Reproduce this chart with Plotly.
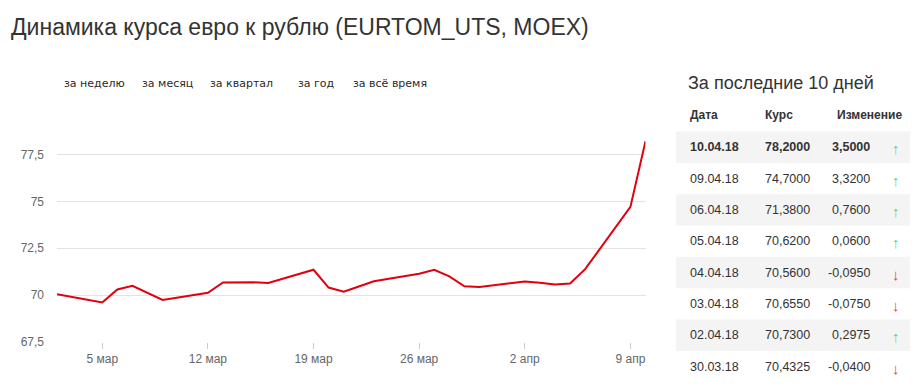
import plotly.graph_objects as go

# ---- chart data ----
dates = ["2018-03-02", "2018-03-05", "2018-03-06", "2018-03-07", "2018-03-09",
         "2018-03-12", "2018-03-13", "2018-03-14", "2018-03-15", "2018-03-16",
         "2018-03-19", "2018-03-20", "2018-03-21", "2018-03-22", "2018-03-23",
         "2018-03-26", "2018-03-27", "2018-03-28", "2018-03-29", "2018-03-30",
         "2018-04-02", "2018-04-03", "2018-04-04", "2018-04-05", "2018-04-06",
         "2018-04-09", "2018-04-10"]
rates = [70.04, 69.61, 70.30, 70.49, 69.74,
         70.12, 70.67, 70.68, 70.68, 70.65,
         71.35, 70.40, 70.18, 70.46, 70.74,
         71.14, 71.35, 71.00, 70.47, 70.4325,
         70.73, 70.655, 70.56, 70.62, 71.38,
         74.70, 78.20]

x_tick_vals = ["2018-03-05", "2018-03-12", "2018-03-19", "2018-03-26", "2018-04-02", "2018-04-09"]
x_tick_text = ["5 мар", "12 мар", "19 мар", "26 мар", "2 апр", "9 апр"]
y_tick_vals = [67.5, 70, 72.5, 75, 77.5, 80]
y_tick_text = ["67,5", "70", "72,5", "75", "77,5", ""]

periods = ["за неделю", "за месяц", "за квартал", "за год", "за всё время"]

# ---- table data ----
tbl_header = ["Дата", "Курс", "Изменение"]
tbl_dates = ["10.04.18", "09.04.18", "06.04.18", "05.04.18", "04.04.18", "03.04.18", "02.04.18", "30.03.18"]
tbl_rates = ["78,2000", "74,7000", "71,3800", "70,6200", "70,5600", "70,6550", "70,7300", "70,4325"]
tbl_changes = [3.5, 3.32, 0.76, 0.06, -0.095, -0.075, 0.2975, -0.04]

W, H = 917, 386


def px_x(px):
    return px / W


def px_y(py):
    return 1 - py / H


fig = go.Figure()
fig.add_trace(go.Scatter(
    x=dates, y=rates, mode="lines",
    line=dict(color="#e1000f", width=2),
    hoverinfo="skip", showlegend=False,
))

tick_font = dict(family="Liberation Sans Narrow, Arial Narrow, Arial, sans-serif", size=12, color="#666666")

fig.update_layout(
    width=W, height=H,
    margin=dict(l=0, r=0, t=0, b=0),
    paper_bgcolor="white", plot_bgcolor="white",
    showlegend=False,
    xaxis=dict(
        type="date", range=["2018-03-02", "2018-04-10"],
        domain=[px_x(57), px_x(645.5)],
        tickmode="array", tickvals=x_tick_vals, ticktext=x_tick_text,
        ticks="outside", ticklen=6, tickcolor="#cccccc", tickwidth=1,
        showgrid=False, zeroline=False, showline=False,
        tickfont=tick_font, fixedrange=True,
    ),
    yaxis=dict(
        range=[67.5, 80],
        domain=[px_y(348.3), px_y(109.5)],
        tickmode="array", tickvals=y_tick_vals, ticktext=y_tick_text,
        showgrid=True, gridcolor="#e3e3e3", gridwidth=1,
        zeroline=False, showline=False, ticks="",
        ticklabelstandoff=12,
        tickfont=tick_font, fixedrange=True,
    ),
)

annotations = []
# title
annotations.append(dict(
    text="Динамика курса евро к рублю (EURTOM_UTS, MOEX)",
    x=px_x(9), y=px_y(28), xref="paper", yref="paper",
    xanchor="left", yanchor="middle", showarrow=False,
    font=dict(family="Arial, Liberation Sans, sans-serif", size=23, color="#333333"),
))
# period buttons
period_x = [62, 140, 208, 296, 351]
for label, xp in zip(periods, period_x):
    annotations.append(dict(
        text=label, x=px_x(xp), y=px_y(85), xref="paper", yref="paper",
        xanchor="left", yanchor="middle", showarrow=False,
        font=dict(family="Tahoma, DejaVu Sans, sans-serif", size=11, color="#2a2a2a"),
    ))

# right panel title
annotations.append(dict(
    text="За последние 10 дней", x=px_x(686), y=px_y(85), xref="paper", yref="paper",
    xanchor="left", yanchor="middle", showarrow=False,
    font=dict(family="Arial, Liberation Sans, sans-serif", size=18, color="#333333"),
))

tfont = "Arial, Liberation Sans, sans-serif"
hdr_x = [688, 763, 835]
for txt, xp in zip(tbl_header, hdr_x):
    annotations.append(dict(
        text="<b>" + txt + "</b>", x=px_x(xp), y=px_y(117), xref="paper", yref="paper",
        xanchor="left", yanchor="middle", showarrow=False,
        font=dict(family=tfont, size=12, color="#333333"),
    ))

shapes = []
row_h = 31.9
for i, (d, r, c) in enumerate(zip(tbl_dates, tbl_rates, tbl_changes)):
    yc = 150 + row_h * i
    if i % 2 == 0:
        shapes.append(dict(
            type="rect", xref="paper", yref="paper",
            x0=px_x(676), x1=px_x(910), y0=px_y(yc - 16), y1=px_y(yc + 16),
            fillcolor="#f4f4f4", line=dict(width=0), layer="below",
        ))
    ch = ("%.4f" % c).replace(".", ",")
    wrap = (lambda s: "<b>" + s + "</b>") if i == 0 else (lambda s: s)
    for txt, xp, anc in [(d, 688, "left"), (r, 763, "left"), (ch, 872, "right")]:
        annotations.append(dict(
            text=wrap(txt), x=px_x(xp), y=px_y(yc), xref="paper", yref="paper",
            xanchor=anc, yanchor="middle", showarrow=False,
            font=dict(family=tfont, size=12.5, color="#333333"),
        ))
    up = c >= 0
    annotations.append(dict(
        text="↑" if up else "↓", x=px_x(896), y=px_y(yc + 1.5), xref="paper", yref="paper",
        xanchor="center", yanchor="middle", showarrow=False,
        font=dict(family="Arial, Liberation Sans, sans-serif", size=15,
                  color="#5fd56a" if up else "#e8403a"),
    ))

fig.update_layout(annotations=annotations, shapes=shapes)

fig.write_html(
    "out.html",
    config={"displayModeBar": False},
    post_script="document.body.style.margin='0';document.body.style.overflow='hidden';",
)
